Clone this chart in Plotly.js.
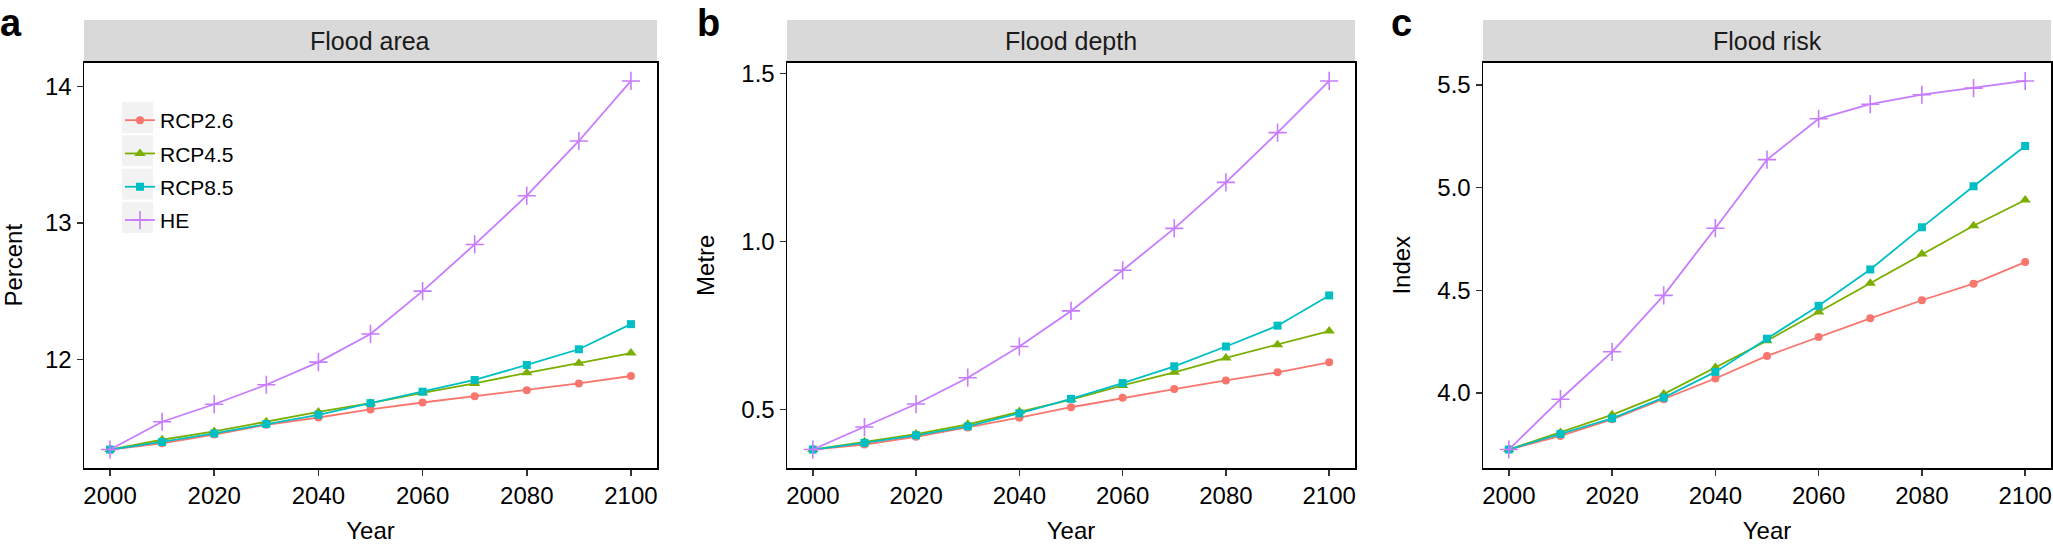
<!DOCTYPE html>
<html><head><meta charset="utf-8">
<script src="https://cdn.plot.ly/plotly-3.0.1.min.js"></script>
<style>html,body{margin:0;padding:0;background:#fff}#chart{width:2053px;height:544px}</style>
</head><body><div id="chart"></div>
<script>
const years = [2000,2010,2020,2030,2040,2050,2060,2070,2080,2090,2100];
const seriesNames = ['RCP2.6','RCP4.5','RCP8.5','HE'];
const panelTitles = ['Flood area','Flood depth','Flood risk'];
const panelLetters = ['a','b','c'];
const yTitles = ['Percent','Metre','Index'];
const xTicks = [2000,2020,2040,2060,2080,2100];
const yTicksArea = [12,13,14];
const yTicksDepth = [0.5,1.0,1.5];
const yTicksRisk = [4.0,4.5,5.0,5.5];

const areaRCP26 = [11.339,11.385,11.449,11.520,11.574,11.633,11.684,11.730,11.773,11.824,11.878];
const areaRCP45 = [11.339,11.411,11.472,11.543,11.615,11.679,11.755,11.824,11.901,11.972,12.046];
const areaRCP85 = [11.339,11.395,11.457,11.526,11.594,11.679,11.763,11.849,11.959,12.074,12.258];
const areaHE    = [11.339,11.543,11.671,11.814,11.980,12.186,12.500,12.842,13.199,13.600,14.040];

const depthRCP26 = [0.380,0.395,0.418,0.446,0.475,0.506,0.534,0.560,0.586,0.610,0.640];
const depthRCP45 = [0.380,0.403,0.426,0.455,0.493,0.529,0.571,0.610,0.653,0.692,0.733];
const depthRCP85 = [0.380,0.400,0.4225,0.449,0.488,0.531,0.578,0.628,0.687,0.749,0.839];
const depthHE    = [0.380,0.447,0.5155,0.594,0.687,0.793,0.914,1.039,1.176,1.324,1.478];

const riskRCP26 = [3.725,3.791,3.872,3.970,4.071,4.181,4.273,4.364,4.452,4.533,4.638];
const riskRCP45 = [3.725,3.808,3.894,3.995,4.125,4.255,4.395,4.535,4.677,4.815,4.940];
const riskRCP85 = [3.725,3.801,3.877,3.978,4.103,4.265,4.425,4.602,4.807,5.007,5.203];
const riskHE    = [3.725,3.970,4.201,4.476,4.803,5.137,5.336,5.407,5.453,5.485,5.520];

const colors = ['#F8766D','#7CAE00','#00BFC4','#C77CFF'];
const symbols = ['circle','triangle-up','square','cross-thin-open'];
const msizes = [8,10,8,13];

const panels = [
  [areaRCP26, areaRCP45, areaRCP85, areaHE],
  [depthRCP26, depthRCP45, depthRCP85, depthHE],
  [riskRCP26, riskRCP45, riskRCP85, riskHE]
];

const W = 2053, H = 544;
const boxX = [[84,657],[787,1355],[1483,2051]];
const boxTop = 62.5, boxBottom = 468;
const stripTop = 20;
const yRanges = [[11.204,14.175],[0.325,1.533],[3.635,5.610]];
const yTickSets = [yTicksArea, yTicksDepth, yTicksRisk];
const yFormats = ['d','.1f','.1f'];
const font = 'Liberation Sans, Arial, sans-serif';

const data = [];
panels.forEach((series, p) => {
  series.forEach((vals, s) => {
    data.push({
      type: 'scatter', mode: 'lines+markers',
      x: years, y: vals, name: seriesNames[s],
      xaxis: p === 0 ? 'x' : 'x' + (p + 1),
      yaxis: p === 0 ? 'y' : 'y' + (p + 1),
      showlegend: p === 0,
      legendgroup: 'g' + s,
      line: {color: colors[s], width: 1.8},
      marker: {symbol: symbols[s], size: msizes[s], color: colors[s],
               line: {color: colors[s], width: s === 3 ? 1.6 : 0}}
    });
  });
});

const layout = {
  width: W, height: H,
  margin: {l: 0, r: 0, t: 0, b: 0},
  paper_bgcolor: '#fff', plot_bgcolor: '#fff',
  font: {family: font, color: '#000', size: 24},
  showlegend: true,
  legend: {x: 120 / W, y: 1 - 100 / H, xanchor: 'left', yanchor: 'top',
           bgcolor: 'rgba(0,0,0,0)', font: {size: 21, family: font},
           tracegroupgap: 3, itemwidth: 30},
  shapes: [], annotations: []
};

boxX.forEach((bx, p) => {
  const sfx = p === 0 ? '' : String(p + 1);
  const xd = [bx[0] / W, bx[1] / W];
  const yd = [1 - boxBottom / H, 1 - boxTop / H];
  layout['xaxis' + sfx] = {
    domain: xd, anchor: 'y' + sfx, range: [1995, 2105],
    tickvals: xTicks, ticks: 'outside', ticklen: 6, tickwidth: 1.5, tickcolor: '#333',
    showline: true, mirror: true, linecolor: '#000', linewidth: 1.5,
    showgrid: false, zeroline: false,
    tickfont: {size: 24, color: '#000', family: font},
    title: {text: 'Year', font: {size: 24, color: '#000', family: font}, standoff: 21}
  };
  layout['yaxis' + sfx] = {
    domain: yd, anchor: 'x' + sfx, range: yRanges[p],
    tickvals: yTickSets[p], tickformat: yFormats[p],
    ticks: 'outside', ticklen: 6, tickwidth: 1.5, tickcolor: '#333',
    showline: true, mirror: true, linecolor: '#000', linewidth: 1.5,
    showgrid: false, zeroline: false,
    tickfont: {size: 24, color: '#000', family: font},
    title: {text: yTitles[p], font: {size: 24, color: '#000', family: font}, standoff: 20}
  };
  layout.shapes.push({type: 'rect', xref: 'paper', yref: 'paper',
    x0: xd[0], x1: xd[1], y0: 1 - boxTop / H, y1: 1 - stripTop / H,
    fillcolor: '#D9D9D9', line: {width: 0}, layer: 'below'});
  layout.annotations.push({xref: 'paper', yref: 'paper',
    x: (xd[0] + xd[1]) / 2, y: 1 - (stripTop + boxTop) / 2 / H,
    xanchor: 'center', yanchor: 'middle', showarrow: false,
    text: panelTitles[p], font: {size: 25, color: '#1a1a1a', family: font}});
});

const letterX = [0, 697, 1391];
letterX.forEach((lx, p) => {
  layout.annotations.push({xref: 'paper', yref: 'paper',
    x: lx / W, y: 1 - 23 / H, xanchor: 'left', yanchor: 'middle', showarrow: false,
    xshift: -2,
    text: '<b>' + panelLetters[p] + '</b>', font: {size: 38, color: '#000', family: font}});
});

// grey legend key backgrounds
for (let i = 0; i < 4; i++) {
  const top = 102 + i * 33.3;
  layout.shapes.push({type: 'rect', xref: 'paper', yref: 'paper',
    x0: 122 / W, x1: 153 / W, y0: 1 - (top + 31) / H, y1: 1 - top / H,
    fillcolor: '#F2F2F2', line: {width: 0}, layer: 'below'});
}

Plotly.newPlot('chart', data, layout, {displayModeBar: false, staticPlot: true});
</script>
</body></html>
